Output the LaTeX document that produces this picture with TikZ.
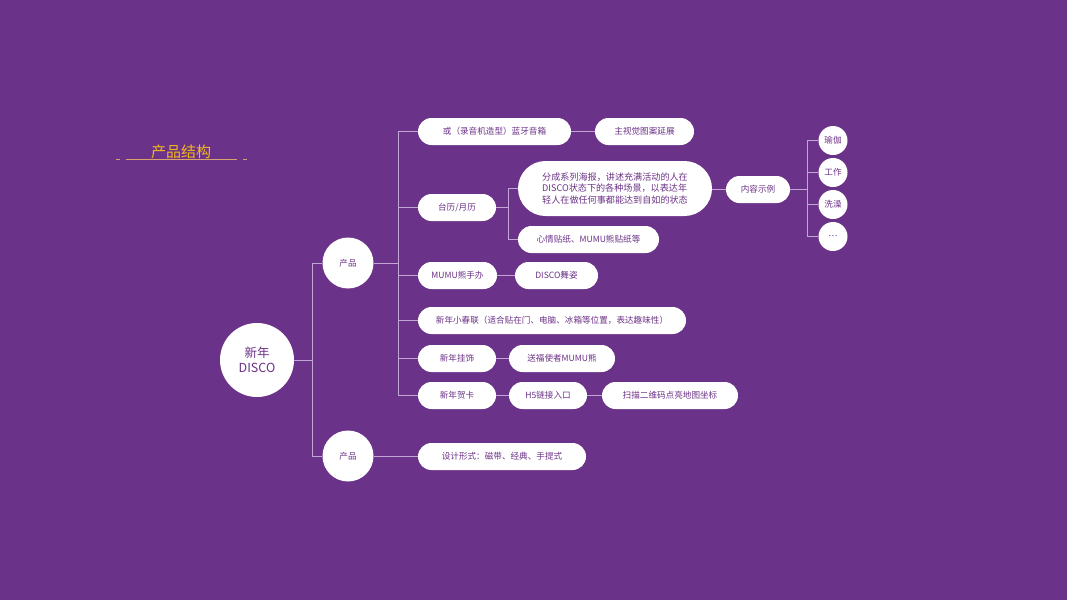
\documentclass[tikz,border=0pt]{standalone}
\usepackage{fontspec}
\setmainfont{Noto Sans CJK SC}
\definecolor{bgp}{HTML}{6B3289}
\definecolor{txp}{HTML}{6C3288}
\definecolor{lnc}{HTML}{C4A6D6}
\definecolor{ttl}{HTML}{F2B91C}
\definecolor{uln}{HTML}{D9A36E}
\begin{document}
\begin{tikzpicture}[x=1pt,y=-1pt,
  pill/.style={fill=white, rounded corners=13.5pt, minimum height=27pt, inner sep=0pt, text=txp, font=\fontsize{8.6}{10}\selectfont},
  bubble/.style={circle, fill=white, inner sep=0pt, text=txp, font=\fontsize{8.6}{10}\selectfont},
  conn/.style={draw=lnc, line width=1pt}]
\useasboundingbox (0,0) rectangle (1067,600);
\fill[bgp] (0,0) rectangle (1067,600);
% title
\node[text=ttl, font=\fontsize{15}{18}\selectfont] (title) at (181,152) {产品结构};
\draw[uln, line width=0.8pt] (126,159.5) -- (237,159.5);
\draw[uln, line width=0.8pt] (116,159.5) -- (119.5,159.5);
\draw[uln, line width=0.8pt] (243,159.5) -- (247,159.5);
% root
\node[bubble, minimum size=74pt, font=\fontsize{12.5}{15.5}\selectfont, align=center] (root) at (257,360) {新年\\DISCO};
\node[bubble, minimum size=51pt] (p1) at (348,263) {产品};
\node[bubble, minimum size=51pt] (p2) at (348,456) {产品};
\coordinate (j1) at (312,360);
\draw[conn] (root.east) -- (j1);
\draw[conn] (j1) |- (p1.west);
\draw[conn] (j1) |- (p2.west);
% level 2
\node[pill, minimum width=153pt] (a1) at (494.5,131.5) {或（录音机造型）蓝牙音箱};
\node[pill, minimum width=99pt] (a2) at (644.5,131.5) {主视觉图案延展};
\node[pill, minimum width=78pt] (b1) at (457,207.5) {台历/月历};
\node[fill=white, rounded corners=27.5pt, minimum width=194pt, minimum height=55pt, inner sep=0pt, text=txp, font=\fontsize{9.1}{11.2}\selectfont, align=left] (b2) at (615,188.5) {分成系列海报，讲述充满活动的人在\\DISCO状态下的各种场景，以表达年\\轻人在做任何事都能达到自如的状态};
\node[pill, minimum width=141pt] (b3) at (588.5,239.5) {心情贴纸、MUMU熊贴纸等};
\node[pill, minimum width=64pt] (b4) at (758,189.5) {内容示例};
\node[bubble, minimum size=29pt] (k1) at (833,140.5) {瑜伽};
\node[bubble, minimum size=29pt] (k2) at (833,172.5) {工作};
\node[bubble, minimum size=29pt] (k3) at (833,204.5) {洗澡};
\node[bubble, minimum size=29pt] (k4) at (833,236.5) {…};
\node[pill, minimum width=79pt] (c1) at (457.5,275.5) {MUMU熊手办};
\node[pill, minimum width=83pt] (c2) at (556.5,275.5) {DISCO舞姿};
\node[pill, minimum width=268pt] (d1) at (552,320.5) {新年小春联（适合贴在门、电脑、冰箱等位置，表达趣味性）};
\node[pill, minimum width=78pt] (e1) at (457,358.5) {新年挂饰};
\node[pill, minimum width=106pt] (e2) at (562,358.5) {送福使者MUMU熊};
\node[pill, minimum width=78pt] (f1) at (457,395.5) {新年贺卡};
\node[pill, minimum width=78pt] (f2) at (548,395.5) {H5链接入口};
\node[pill, minimum width=136pt] (f3) at (670,395.5) {扫描二维码点亮地图坐标};
\node[pill, minimum width=168pt] (g1) at (502,456.5) {设计形式：磁带、经典、手提式};
% connectors from p1
\coordinate (j2) at (398,263);
\draw[conn] (p1.east) -- (j2);
\draw[conn] (j2) |- (a1.west);
\draw[conn] (j2) |- (b1.west);
\draw[conn] (j2) |- (c1.west);
\draw[conn] (j2) |- (d1.west);
\draw[conn] (j2) |- (e1.west);
\draw[conn] (j2) |- (f1.west);
\draw[conn] (a1.east) -- (a2.west);
\coordinate (j3) at (508,207.5);
\draw[conn] (b1.east) -- (j3);
\draw[conn] (j3) |- (b2.west);
\draw[conn] (j3) |- (b3.west);
\draw[conn] (b2.east |- b4.west) -- (b4.west);
\coordinate (j4) at (807,189.5);
\draw[conn] (b4.east) -- (j4);
\draw[conn] (j4) |- (k1.west);
\draw[conn] (j4) |- (k2.west);
\draw[conn] (j4) |- (k3.west);
\draw[conn] (j4) |- (k4.west);
\draw[conn] (c1.east) -- (c2.west);
\draw[conn] (e1.east) -- (e2.west);
\draw[conn] (f1.east) -- (f2.west);
\draw[conn] (f2.east) -- (f3.west);
\draw[conn] (p2.east |- g1.west) -- (g1.west);
\end{tikzpicture}
\end{document}
